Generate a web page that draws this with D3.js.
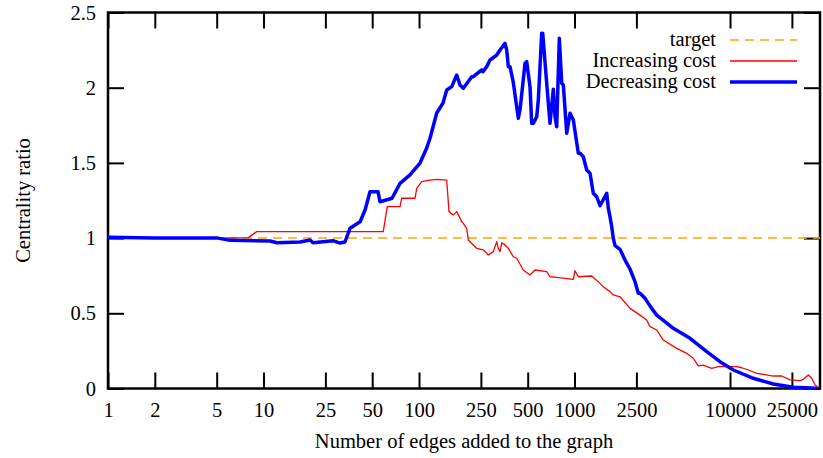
<!DOCTYPE html>
<html>
<head>
<meta charset="utf-8">
<script src="https://cdn.jsdelivr.net/npm/d3@7/dist/d3.min.js"></script>
<style>
  html, body { margin: 0; padding: 0; background: #fff; }
  svg { display: block; }
  text { font-family: "Liberation Serif", "Times New Roman", serif; fill: #000; }
</style>
</head>
<body>
<svg id="chart" width="823" height="458"></svg>
<script>
// ---------- data ----------
const xTickValues = [1, 2, 5, 10, 25, 50, 100, 250, 500, 1000, 2500, 10000, 25000];
const yTickValues = [0, 0.5, 1, 1.5, 2, 2.5];
const xDomain = [1, 37900];
const yDomain = [0, 2.5];

const seriesNames = ["target", "Increasing cost", "Decreasing cost"];

const targetX = [1, 37900];
const targetY = [1, 1];

const incX = [1, 5.1, 8.0, 9.04, 58.9, 62.5, 75.5, 77.4, 94.3, 96.7, 104.1, 112.1, 130, 150.7, 155.9, 166.2, 174.8, 181.6, 188.2, 192.7, 202.7, 207.6, 223.5, 235, 259.1, 272.5, 279.1, 300.5, 316, 323.6, 331.8, 340.3, 348.4, 352, 375.2, 404, 424.9, 468.5, 517.3, 557.2, 662.5, 695.7, 768.2, 982.4, 1007, 1058, 1290, 1459, 1532, 1691, 1776, 1962, 2275, 2638, 2913, 3058, 3378, 3725, 4542, 5266, 5808, 6254, 6735, 7627, 8409, 9286, 11040, 11890, 13120, 14850, 18980, 21510, 24310, 28200, 29610, 31880, 33520, 35210, 36970];
const incY = [1.005, 1.0, 1.003, 1.043, 1.043, 1.209, 1.209, 1.265, 1.265, 1.331, 1.375, 1.382, 1.391, 1.386, 1.176, 1.154, 1.176, 1.142, 1.109, 1.098, 1.065, 0.987, 0.954, 0.932, 0.921, 0.899, 0.888, 0.910, 0.976, 0.930, 0.910, 0.969, 0.961, 0.961, 0.932, 0.876, 0.866, 0.788, 0.755, 0.788, 0.777, 0.743, 0.739, 0.726, 0.783, 0.743, 0.748, 0.699, 0.677, 0.644, 0.622, 0.610, 0.533, 0.488, 0.455, 0.411, 0.389, 0.322, 0.267, 0.234, 0.201, 0.150, 0.156, 0.134, 0.145, 0.145, 0.145, 0.138, 0.123, 0.101, 0.083, 0.083, 0.057, 0.052, 0.061, 0.090, 0.068, 0.023, 0.008];

const decX = [1, 2, 5.1, 6.1, 11, 12.2, 17.2, 19.9, 20.8, 28, 31, 33.4, 36, 41.8, 45, 48.4, 54.5, 56.1, 67.1, 75.5, 87.5, 101.5, 112.1, 117.7, 130, 142.7, 150.7, 162.3, 174.8, 183.5, 192.7, 218.3, 223.5, 253.1, 258, 272.5, 286.2, 316, 331.8, 357.4, 366.4, 375.2, 384.7, 404, 435.1, 446.2, 480.5, 492.7, 517.3, 530.6, 543.4, 571.4, 585.1, 615.3, 624.4, 662.5, 695.7, 730.6, 749.2, 768.2, 798.4, 827.6, 847.3, 891.1, 935.7, 982.4, 1058, 1085, 1139, 1198, 1258, 1321, 1389, 1459, 1611, 1650, 1691, 1735, 1776, 1822, 1962, 2113, 2275, 2449, 2572, 2638, 2841, 2983, 3136, 3378, 4319, 5532, 7084, 8625, 10500, 14120, 18980, 25530, 36100];
const decY = [1.005, 1.0, 1.0, 0.985, 0.981, 0.969, 0.974, 0.987, 0.969, 0.983, 0.967, 0.974, 1.065, 1.109, 1.187, 1.309, 1.309, 1.242, 1.265, 1.364, 1.420, 1.499, 1.599, 1.664, 1.832, 1.898, 1.985, 2.007, 2.084, 2.018, 1.996, 2.073, 2.073, 2.118, 2.106, 2.140, 2.184, 2.217, 2.251, 2.295, 2.251, 2.140, 2.140, 2.035, 1.797, 1.852, 2.162, 2.173, 2.007, 1.763, 1.763, 1.807, 1.918, 2.362, 2.362, 2.029, 1.763, 1.990, 1.807, 1.741, 2.328, 2.029, 2.018, 1.697, 1.830, 1.785, 1.564, 1.564, 1.541, 1.453, 1.431, 1.298, 1.275, 1.215, 1.298, 1.198, 1.142, 1.076, 0.999, 0.950, 0.925, 0.854, 0.794, 0.710, 0.633, 0.633, 0.600, 0.566, 0.533, 0.488, 0.400, 0.334, 0.245, 0.178, 0.123, 0.068, 0.030, 0.008, 0.001];

// ---------- layout ----------
const W = 823, H = 458;
const L = 108, R = 820, T = 12.5, B = 388.5;
const svg = d3.select("#chart");
svg.append("rect").attr("width", W).attr("height", H).attr("fill", "#fff");

const x = d3.scaleLog().domain(xDomain).range([L, R]);
const y = d3.scaleLinear().domain(yDomain).range([B, T]);

const tickLen = 16;
const fs = 20.5;

// bottom axis
const gB = svg.append("g").attr("transform", `translate(0,${B})`)
  .call(d3.axisBottom(x).tickValues(xTickValues).tickFormat(d => String(d)).tickSizeInner(-tickLen).tickSizeOuter(0).tickPadding(14));
// top axis (mirror, no labels)
const gT = svg.append("g").attr("transform", `translate(0,${T})`)
  .call(d3.axisTop(x).tickValues(xTickValues).tickFormat("").tickSizeInner(-tickLen).tickSizeOuter(0));
// left axis
const gL = svg.append("g").attr("transform", `translate(${L},0)`)
  .call(d3.axisLeft(y).tickValues(yTickValues).tickFormat(d => String(d)).tickSizeInner(-tickLen).tickSizeOuter(0).tickPadding(12));
// right axis (mirror)
const gR = svg.append("g").attr("transform", `translate(${R},0)`)
  .call(d3.axisRight(y).tickValues(yTickValues).tickFormat("").tickSizeInner(-tickLen).tickSizeOuter(0));

[gB, gT, gL, gR].forEach(g => {
  g.select(".domain").remove();
  g.selectAll(".tick line").attr("stroke", "#000").attr("stroke-width", 2);
  g.selectAll(".tick text").attr("font-size", fs).attr("font-family", "Liberation Serif").attr("fill", "#000");
});

// border
svg.append("rect").attr("x", L).attr("y", T).attr("width", R - L).attr("height", B - T)
  .attr("fill", "none").attr("stroke", "#000").attr("stroke-width", 2.5);

// axis titles
svg.append("text").attr("x", (L + R) / 2).attr("y", 448).attr("text-anchor", "middle")
  .attr("font-size", fs).text("Number of edges added to the graph");
svg.append("text").attr("transform", `translate(30,${(T + B) / 2}) rotate(-90)`).attr("text-anchor", "middle")
  .attr("font-size", fs).text("Centrality ratio");

// series
const line = d3.line().x(d => x(d[0])).y(d => y(d[1]));
const zip = (a, b) => a.map((v, i) => [v, b[i]]);

const styles = [
  { color: "#ffa500", width: 1.5, dash: "9,6" },
  { color: "#ff0000", width: 1.3, dash: null },
  { color: "#0000ff", width: 3.5, dash: null }
];
const seriesData = [zip(targetX, targetY), zip(incX, incY), zip(decX, decY)];

const plot = svg.append("g");
seriesData.forEach((d, i) => {
  plot.append("path").datum(d).attr("d", line).attr("fill", "none")
    .attr("stroke", styles[i].color).attr("stroke-width", styles[i].width)
    .attr("stroke-linejoin", "round")
    .attr("stroke-dasharray", styles[i].dash);
});

// legend
const legY = [40, 61, 82];
seriesNames.forEach((name, i) => {
  svg.append("text").attr("x", 716).attr("y", legY[i] + 6).attr("text-anchor", "end")
    .attr("font-size", fs).text(name);
  svg.append("line").attr("x1", 730).attr("x2", 797).attr("y1", legY[i]).attr("y2", legY[i])
    .attr("stroke", styles[i].color).attr("stroke-width", styles[i].width)
    .attr("stroke-dasharray", styles[i].dash);
});
</script>
</body>
</html>
